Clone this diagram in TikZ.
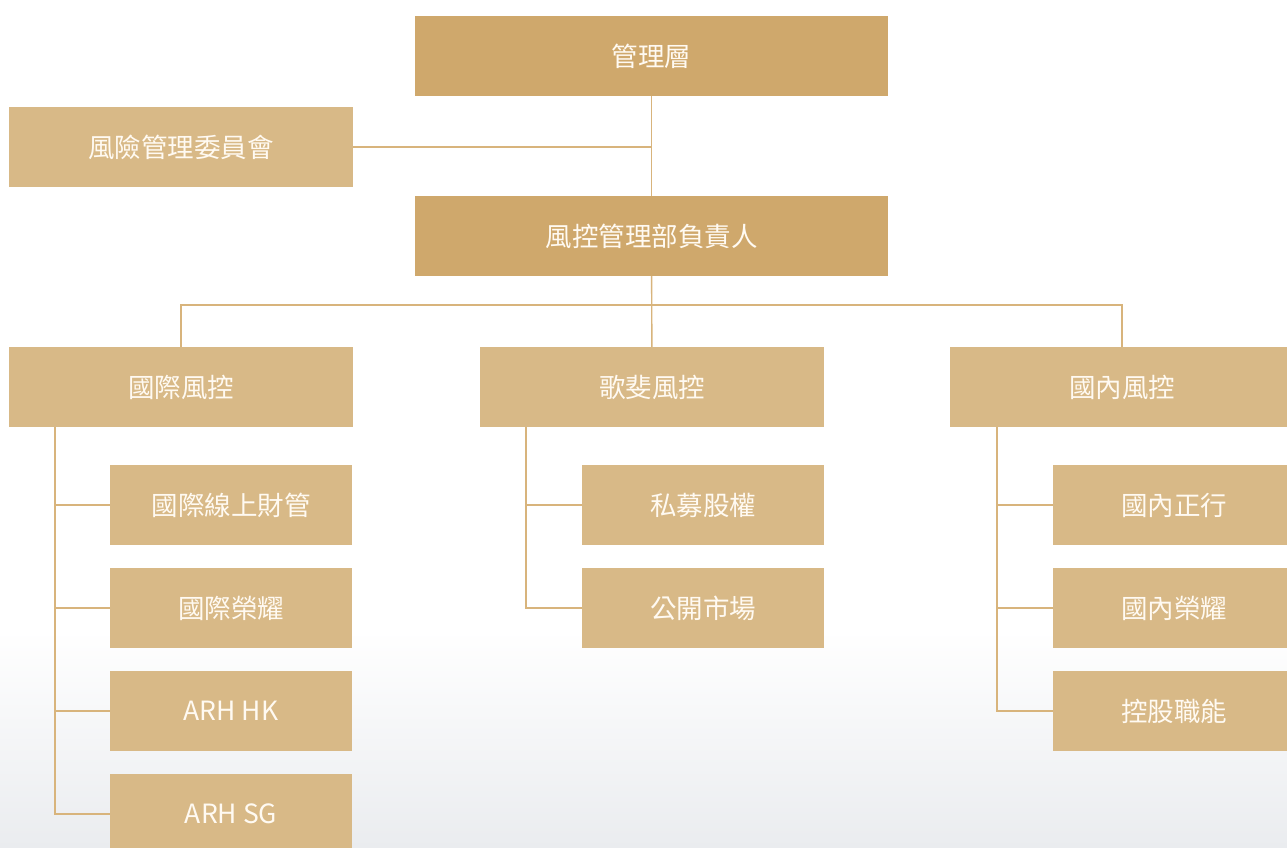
\documentclass[tikz,border=0pt]{standalone}
\usepackage{fontspec}
\setmainfont{Noto Sans CJK TC}
\usetikzlibrary{calc}

\definecolor{headgold}{RGB}{207,168,108}
\definecolor{boxgold}{RGB}{216,185,135}
\definecolor{linegold}{RGB}{216,180,124}
\definecolor{txtwhite}{RGB}{255,250,242}
\definecolor{haze}{RGB}{234,236,239}

\begin{document}
\begin{tikzpicture}[x=1pt,y=-1pt,
	unitbox/.style={fill=boxgold,text=txtwhite,inner sep=0pt,minimum height=80pt,font=\fontsize{26.5}{31}\selectfont},
	headbox/.style={unitbox,fill=headgold,minimum width=473pt},
	groupbox/.style={unitbox,minimum width=344pt},
	teambox/.style={unitbox,minimum width=242pt},
	link/.style={draw=linegold,line width=1.4pt}]
	\useasboundingbox (0,0) rectangle (1287,848);
	\fill[white] (0,0) rectangle (1287,848);
	\shade[top color=white,bottom color=haze] (0,630) rectangle (1287,848);
	\node[headbox] (mgmt) at (651.5,56) {管理層};
	\node[groupbox] (riskcom) at (181,147) {風險管理委員會};
	\node[headbox] (riskhead) at (651.5,236) {風控管理部負責人};
	\node[groupbox] (intl) at (181,387) {國際風控};
	\node[groupbox] (gopher) at (652,387) {歌斐風控};
	\node[groupbox] (dom) at (1122,387) {國內風控};
	\node[teambox] (intlwm) at (231,505) {國際線上財管};
	\node[teambox] (intlhon) at (231,608) {國際榮耀};
	\node[teambox] (arhhk) at (231,711) {ARH HK};
	\node[teambox] (arhsg) at (231,814) {ARH SG};
	\node[teambox] (pe) at (703,505) {私募股權};
	\node[teambox] (pubmkt) at (703,608) {公開市場};
	\node[teambox] (domzx) at (1174,505) {國內正行};
	\node[teambox] (domhon) at (1174,608) {國內榮耀};
	\node[teambox] (holdfn) at (1174,711) {控股職能};
	\coordinate (ltrunk) at ($(intl.south west)+(46,0)$);
	\coordinate (mtrunk) at ($(gopher.south west)+(46,0)$);
	\coordinate (rtrunk) at ($(dom.south west)+(47,0)$);
	\path[link] (mgmt) -- (riskhead);
	\path[link] (riskcom.east) -- (riskcom.east -| mgmt);
	\path[link] (riskhead) -- (gopher);
	\path[link] (intl.north) -- ++(0,-42) -| (dom.north);
	\path[link] (ltrunk) |- (arhsg.west);
	\foreach \n in {intlwm,intlhon,arhhk}
		\path[link] (\n.west) -- (\n.west -| ltrunk);
	\path[link] (mtrunk) |- (pubmkt.west);
	\path[link] (pe.west) -- (pe.west -| mtrunk);
	\path[link] (rtrunk) |- (holdfn.west);
	\foreach \n in {domzx,domhon}
		\path[link] (\n.west) -- (\n.west -| rtrunk);
\end{tikzpicture}
\end{document}
